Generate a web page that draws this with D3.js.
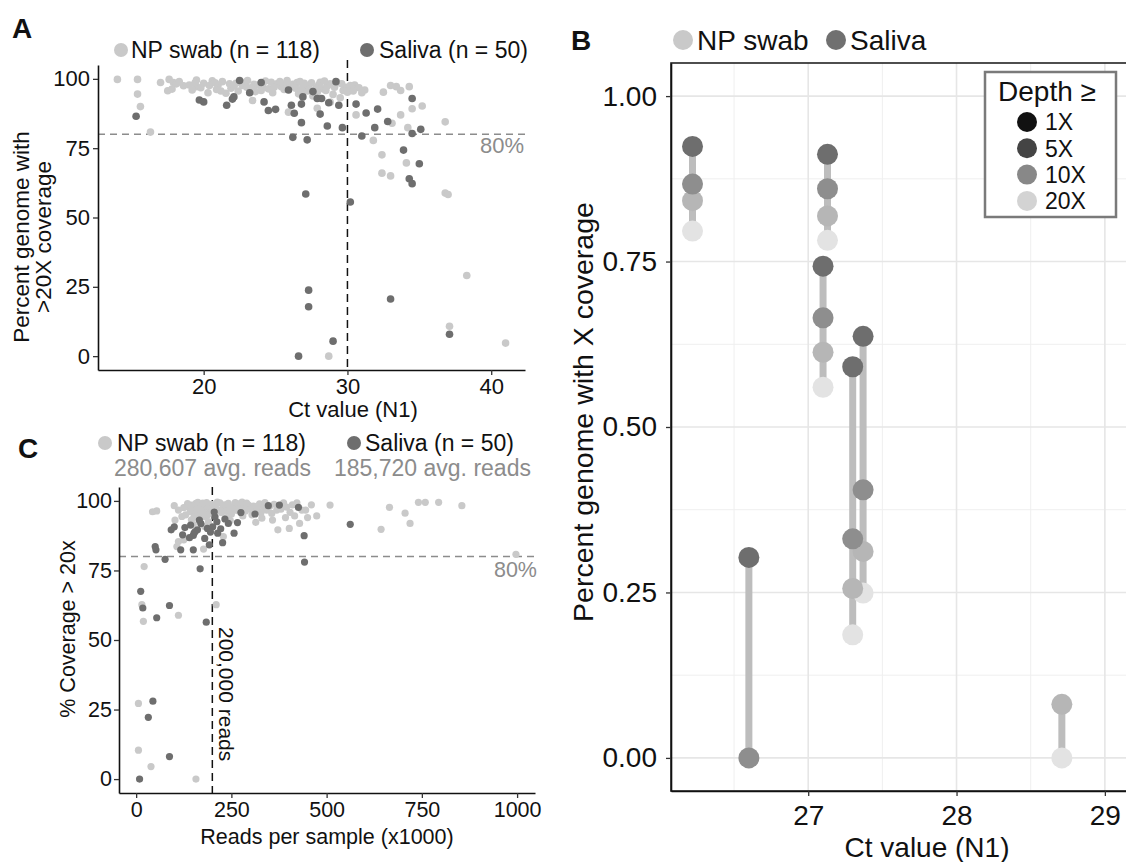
<!DOCTYPE html>
<html>
<head>
<meta charset="utf-8">
<script src="https://cdn.jsdelivr.net/npm/d3@7"></script>
<style>
body { margin: 0; background: #fff; }
svg text { font-family: "Liberation Sans", Arial, sans-serif; }
</style>
</head>
<body>
<div id="chart"></div>
<script>

// ---- panel A : Ct value vs percent genome with >20X coverage  [ct, pct]
var npSwabA = [
	[14.0,99.8],[15.4,99.8],[15.4,94.5],[15.6,90],[16.3,80.8],[17.0,98.7],[17.6,99.8],[17.9,98.7],[18.1,98.2],[17.5,95.7],
	[17.8,96.3],[19.0,97.8],[19.5,99.6],[19.5,97.2],[20.0,98.4],[20.3,95.0],[20.6,99.3],[21.0,97.8],[21.55,94.8],[21.8,98.2],
	[22.25,98.4],[22.7,97.6],[23.05,99.4],[23.4,92.2],[23.5,98.0],[24.1,97.0],[24.7,98.8],[25.1,98.2],[25.4,97.2],[25.7,98.2],
	[26.2,98.0],[26.5,98.7],[26.9,97.2],[27.2,95.6],[27.3,97.0],[28.0,97.8],[28.3,96.4],[28.5,95.8],[28.8,98.2],[29.1,97.0],
	[29.5,93.2],[29.9,97.0],[30.5,97.8],[30.8,96.8],[31.2,96.0],[30.6,87.0],[27.9,89.4],[28.8,91.6],[25.9,88.0],[32.5,95.2],
	[33.0,97.6],[33.4,97.2],[33.7,95.8],[34.3,97.2],[33.7,87.0],[34.5,89.2],[35.2,90.2],[34.2,82.4],[33.1,84.0],[31.8,77.8],
	[32.4,72.6],[34.1,69.7],[32.4,66.0],[33.0,65.0],[36.8,84.5],[36.8,58.8],[37.0,58.3],[37.1,10.8],[28.7,0],[38.3,29.1],
	[41.0,4.7],[18.6,97.5],[19.2,96.0],[19.8,96.8],[20.4,97.6],[20.9,96.2],[21.3,99.0],[21.9,96.6],[22.4,95.6],[22.9,98.8],
	[23.3,96.8],[23.8,97.8],[24.3,99.2],[24.5,96.4],[24.9,97.0],[25.3,99.0],[25.6,96.2],[26.0,97.2],[26.4,96.6],[26.7,99.0],
	[27.0,98.4],[27.5,98.6],[27.8,96.6],[28.1,98.8],[28.6,97.4],[29.3,98.6],[29.7,95.8],[30.2,97.6],[30.0,95.2],[31.0,95.0],
	[22.1,97.4],[23.6,95.4],[24.8,95.0],[26.6,94.6],[27.6,93.8],[29.0,94.4],[28.4,99.2],[21.2,95.6],[19.4,98.6],[20.8,98.6],
	[25.8,99.4],[23.0,97.0],[26.8,96.0],[24.0,95.8],[27.9,95.2],[29.6,98.2],[30.4,95.6],[18.3,99.0]
];
var salivaA = [
	[15.3,86.5],[19.7,92.4],[20.0,91.7],[21.6,90.5],[22.0,92.7],[22.1,93.5],[22.5,99.4],[23.2,95.0],[24.0,98.7],[24.2,91.7],
	[24.5,88.6],[25.0,89.0],[25.9,96.0],[26.1,90.5],[26.8,90.9],[26.3,87.6],[26.2,78.9],[26.8,84.2],[26.9,93.5],[27.2,78.0],
	[27.6,95.4],[27.9,92.9],[28.2,92.9],[28.1,87.3],[28.6,83.0],[28.7,91.4],[29.2,99.0],[29.4,90.5],[29.65,82.4],[30.6,90.9],
	[31.3,87.7],[31.9,82.4],[31.0,79.4],[32.1,89.1],[32.8,84.6],[34.5,92.9],[33.9,74.3],[34.5,80.3],[35.1,81.8],[35.0,69.4],
	[34.3,64.0],[34.5,62.2],[27.1,58.5],[30.2,55.6],[27.3,23.8],[27.3,17.8],[33.0,20.6],[29.0,5.4],[26.6,0],[37.1,7.9]
];

// ---- panel C : reads per sample (x1000) vs % coverage > 20x  [reads, pct]
var npSwabC = [
	[43,96.1],[54,96.4],[100,98.3],[111,96.7],[102,93.1],[111,85.4],[137,97.9],[146,98.5],[157,99.1],[164,97.9],
	[172,98.5],[181,97.7],[190,98.1],[142,96.1],[155,95.5],[168,95.3],[181,94.3],[194,96.7],[220,99.3],[229,97.9],
	[242,99.1],[255,97.9],[269,98.9],[282,97.9],[295,98.5],[308,98.1],[324,98.9],[334,97.9],[343,96.7],[356,95.5],
	[369,96.7],[387,99.3],[404,95.9],[422,99.3],[435,96.7],[445,96.7],[314,92.3],[358,93.1],[372,89.6],[402,90.1],
	[429,91.9],[474,94.6],[509,98.5],[665,97.7],[706,95.6],[719,91.9],[643,89.8],[741,99.5],[759,99.5],[794,99.5],
	[855,98.3],[997,80.8],[21,76.4],[210,62.7],[15,62.7],[19,56.7],[111,58.9],[6,27.2],[6,10.4],[39,4.5],
	[157,0],[107,83.6],[177,82.7],[229,87.2],[130,95.0],[135,99.0],[148,96.8],[152,94.2],[160,97.0],[162,99.5],
	[170,96.6],[175,99.2],[178,95.8],[185,99.4],[188,95.0],[198,98.8],[200,97.4],[203,95.4],[208,98.2],[213,99.6],
	[216,96.8],[224,95.8],[233,98.6],[236,96.4],[246,97.2],[250,95.2],[260,99.4],[263,96.6],[273,97.4],[278,99.6],
	[287,96.4],[290,99.2],[300,97.0],[304,95.0],[318,97.0],[328,95.8],[338,99.4],[350,98.0],[362,98.8],[380,97.0],
	[395,97.8],[410,98.6],[125,97.6],[120,94.4],[145,93.2],[165,92.8],[190,92.6],[238,94.0],[247,93.0],[280,94.6],
	[330,93.8],[392,94.0],[416,94.6],[450,94.0],[460,98.6],[180,90.8],[150,91.5],[125,86.0]
];
var salivaC = [
	[12,67.5],[17.5,61.5],[54,58],[87.5,62.4],[184,56.4],[44,28],[32,22.2],[87.5,8.1],[9,0],[168,75.6],
	[76,79],[50,83.6],[52,82.4],[117,82.4],[150,82.4],[192,84.2],[227,85],[122,87.8],[92,89.6],[100,90.7],
	[143,91.3],[152,88.4],[161,89.6],[166,93.1],[187,90.1],[207,94.3],[212,92.5],[214,88.4],[201,90.7],[242,91.9],
	[257,88.4],[266,92.2],[275,95.8],[312,95.3],[347,98.3],[376,98.5],[426,97.7],[441,87.5],[442,78],[562,91.6],
	[150,87.6],[155,89.0],[140,86.8],[170,91.8],[195,88.8],[205,96.0],[222,90.0],[233,93.5],[180,86.5],[128,90.4]
];

// ---- panel B : coverage at each depth for a few samples (null = not shown)
var ctB     = [26.22, 27.13, 27.10, 27.30, 27.37, 26.60, 28.71];
var depth1X  = [0.924, 0.912, 0.743, 0.591, 0.637, 0.303, null];
var depth5X  = [0.867, 0.860, 0.665, 0.331, 0.405, 0.0,   null];
var depth10X = [0.842, 0.819, 0.613, 0.256, 0.312, null,  0.081];
var depth20X = [0.796, 0.782, 0.560, 0.186, 0.249, null,  0.0];
var depthLabels = ["1X", "5X", "10X", "20X"];

var lightCol = "#c9c9c9",
	 darkCol = "#6e6e6e",
	 noteCol = "#8c8c8c",
	 depthCols = ["#111111", "#444444", "#888888", "#d3d3d3"],
	 depthDotCols = ["#6e6e6e", "#8e8e8e", "#b6b6b6", "#e3e3e3"];

var svg = d3.select("#chart").append("svg")
	 .attr("width", 1126)
	 .attr("height", 862)

svg.append("rect").attr("width", 1126).attr("height", 862).attr("fill", "#fff")

function styleAxis(g, size) {
	g.attr("font-family", null)
	g.select(".domain").attr("stroke", "#111").attr("stroke-width", 1.6)
	g.selectAll(".tick line").attr("stroke", "#333").attr("stroke-width", 1.3)
	g.selectAll(".tick text").attr("font-size", size).attr("fill", "#111")
}

function label(x, y, txt, size, opts) {
	opts = opts || {};
	return svg.append("text")
		 .attr("x", x).attr("y", y)
		 .attr("font-size", size)
		 .attr("font-weight", opts.bold ? "bold" : null)
		 .attr("fill", opts.fill || "#111")
		 .attr("text-anchor", opts.anchor || "start")
		 .text(txt)
}

// ================= panel A =================
var xA = d3.scaleLinear().domain([12.65, 42.35]).range([98, 525]),
	 yA = d3.scaleLinear().domain([-5, 105]).range([370, 65]);

svg.append("line")
	 .attr("x1", xA.range()[0]).attr("x2", xA.range()[1])
	 .attr("y1", yA(80)).attr("y2", yA(80))
	 .attr("stroke", noteCol).attr("stroke-width", 1.4).attr("stroke-dasharray", "7,5")

svg.append("line")
	 .attr("x1", xA(30)).attr("x2", xA(30))
	 .attr("y1", 60).attr("y2", yA.range()[0])
	 .attr("stroke", "#111").attr("stroke-width", 1.5).attr("stroke-dasharray", "8,5")

svg.append("g").selectAll("circle")
	 .data(npSwabA)
	.enter().append("circle")
	 .attr("cx", function(d) {return xA(d[0])})
	 .attr("cy", function(d) {return yA(d[1])})
	 .attr("r", 3.8)
	 .attr("fill", lightCol)

svg.append("g").selectAll("circle")
	 .data(salivaA)
	.enter().append("circle")
	 .attr("cx", function(d) {return xA(d[0])})
	 .attr("cy", function(d) {return yA(d[1])})
	 .attr("r", 3.8)
	 .attr("fill", darkCol)

svg.append("g")
	 .attr("transform", "translate(0," + yA.range()[0] + ")")
	 .call(d3.axisBottom(xA).tickValues([20, 30, 40]).tickSize(5).tickPadding(3).tickSizeOuter(0))
	 .call(styleAxis, 22)

svg.append("g")
	 .attr("transform", "translate(" + xA.range()[0] + ",0)")
	 .call(d3.axisLeft(yA).tickValues([0, 25, 50, 75, 100]).tickSize(5).tickPadding(3).tickSizeOuter(0))
	 .call(styleAxis, 22)

label(524, 153, "80%", 22, {fill: noteCol, anchor: "end"})
label(353, 417, "Ct value (N1)", 22, {anchor: "middle"})

var yTitleA = svg.append("text")
	 .attr("transform", "translate(29,237) rotate(-90)")
	 .attr("font-size", 22.5).attr("fill", "#111").attr("text-anchor", "middle")
yTitleA.append("tspan").attr("x", 0).attr("dy", 0).text("Percent genome with")
yTitleA.append("tspan").attr("x", 0).attr("dy", 22).text(">20X coverage")

label(12, 38, "A", 28, {bold: true})
svg.append("circle").attr("cx", 121).attr("cy", 50).attr("r", 7).attr("fill", lightCol)
label(131, 58, "NP swab (n = 118)", 23)
svg.append("circle").attr("cx", 367).attr("cy", 50).attr("r", 7).attr("fill", darkCol)
label(379, 58, "Saliva (n = 50)", 23)

// ================= panel C =================
var xC = d3.scaleLinear().domain([-45, 1047]).range([119, 535]),
	 yC = d3.scaleLinear().domain([-5, 105]).range([793, 487]);

svg.append("line")
	 .attr("x1", xC.range()[0]).attr("x2", xC.range()[1])
	 .attr("y1", yC(80)).attr("y2", yC(80))
	 .attr("stroke", noteCol).attr("stroke-width", 1.4).attr("stroke-dasharray", "7,5")

svg.append("line")
	 .attr("x1", xC(200)).attr("x2", xC(200))
	 .attr("y1", yC.range()[1]).attr("y2", yC.range()[0])
	 .attr("stroke", "#111").attr("stroke-width", 1.5).attr("stroke-dasharray", "8,5")

svg.append("g").selectAll("circle")
	 .data(npSwabC)
	.enter().append("circle")
	 .attr("cx", function(d) {return xC(d[0])})
	 .attr("cy", function(d) {return yC(d[1])})
	 .attr("r", 3.6)
	 .attr("fill", lightCol)

svg.append("g").selectAll("circle")
	 .data(salivaC)
	.enter().append("circle")
	 .attr("cx", function(d) {return xC(d[0])})
	 .attr("cy", function(d) {return yC(d[1])})
	 .attr("r", 3.6)
	 .attr("fill", darkCol)

svg.append("g")
	 .attr("transform", "translate(0," + yC.range()[0] + ")")
	 .call(d3.axisBottom(xC).tickValues([0, 250, 500, 750, 1000]).tickFormat(d3.format("d"))
		 .tickSize(5).tickPadding(4).tickSizeOuter(0))
	 .call(styleAxis, 21.5)

svg.append("g")
	 .attr("transform", "translate(" + xC.range()[0] + ",0)")
	 .call(d3.axisLeft(yC).tickValues([0, 25, 50, 75, 100]).tickSize(5).tickPadding(2).tickSizeOuter(0))
	 .call(styleAxis, 21.5)

label(537, 577, "80%", 21.5, {fill: noteCol, anchor: "end"})
label(327, 844, "Reads per sample (x1000)", 21.5, {anchor: "middle"})

svg.append("text")
	 .attr("transform", "translate(75,629) rotate(-90)")
	 .attr("font-size", 21.5).attr("fill", "#111").attr("text-anchor", "middle")
	 .text("% Coverage > 20x")

svg.append("text")
	 .attr("transform", "translate(" + (xC(200) + 7) + ",627) rotate(90)")
	 .attr("font-size", 21).attr("fill", "#111")
	 .text("200,000 reads")

label(18, 458, "C", 28, {bold: true})
svg.append("circle").attr("cx", 105).attr("cy", 443).attr("r", 7).attr("fill", lightCol)
label(117, 451, "NP swab (n = 118)", 23)
label(114, 476, "280,607 avg. reads", 23, {fill: noteCol})
svg.append("circle").attr("cx", 354).attr("cy", 443).attr("r", 7).attr("fill", darkCol)
label(365, 451, "Saliva (n = 50)", 23)
label(334, 476, "185,720 avg. reads", 23, {fill: noteCol})

// ================= panel B =================
var xB = d3.scaleLinear().domain([26.075, 29.52]).range([671, 1182]),
	 yB = d3.scaleLinear().domain([-0.05, 1.05]).range([791, 63]);

var gridB = svg.append("g")
gridB.selectAll(".vminor")
	 .data([26.5, 27.5, 28.5, 29.5])
	.enter().append("line")
	 .attr("x1", function(d) {return xB(d)}).attr("x2", function(d) {return xB(d)})
	 .attr("y1", yB.range()[1]).attr("y2", yB.range()[0])
	 .attr("stroke", "#efefef").attr("stroke-width", 1)
gridB.selectAll(".hminor")
	 .data([0.125, 0.375, 0.625, 0.875])
	.enter().append("line")
	 .attr("x1", xB.range()[0]).attr("x2", xB.range()[1])
	 .attr("y1", function(d) {return yB(d)}).attr("y2", function(d) {return yB(d)})
	 .attr("stroke", "#efefef").attr("stroke-width", 1)
gridB.selectAll(".vmajor")
	 .data([27, 28, 29])
	.enter().append("line")
	 .attr("x1", function(d) {return xB(d)}).attr("x2", function(d) {return xB(d)})
	 .attr("y1", yB.range()[1]).attr("y2", yB.range()[0])
	 .attr("stroke", "#e6e6e6").attr("stroke-width", 1.6)
gridB.selectAll(".hmajor")
	 .data([0, 0.25, 0.5, 0.75, 1])
	.enter().append("line")
	 .attr("x1", xB.range()[0]).attr("x2", xB.range()[1])
	 .attr("y1", function(d) {return yB(d)}).attr("y2", function(d) {return yB(d)})
	 .attr("stroke", "#e6e6e6").attr("stroke-width", 1.6)

var depthRows = [depth1X, depth5X, depth10X, depth20X];
var samplesB = ctB.map(function(ct, i) {
	var vals = depthRows.map(function(row, k) {return {depth: k, v: row[i]}})
		 .filter(function(p) {return p.v !== null});
	return {ct: ct, vals: vals};
});

svg.append("g").selectAll("line")
	 .data(samplesB)
	.enter().append("line")
	 .attr("x1", function(d) {return xB(d.ct)}).attr("x2", function(d) {return xB(d.ct)})
	 .attr("y1", function(d) {return yB(d3.max(d.vals, function(p) {return p.v}))})
	 .attr("y2", function(d) {return yB(d3.min(d.vals, function(p) {return p.v}))})
	 .attr("stroke", "#bdbdbd").attr("stroke-width", 7)

var dotsB = [];
samplesB.forEach(function(s) {
	s.vals.forEach(function(p) {dotsB.push({ct: s.ct, v: p.v, depth: p.depth})})
});
dotsB.sort(function(a, b) {return b.depth - a.depth});

svg.append("g").selectAll("circle")
	 .data(dotsB)
	.enter().append("circle")
	 .attr("cx", function(d) {return xB(d.ct)})
	 .attr("cy", function(d) {return yB(d.v)})
	 .attr("r", 10.5)
	 .attr("fill", function(d) {return depthDotCols[d.depth]})

svg.append("rect")
	 .attr("x", xB.range()[0]).attr("y", yB.range()[1])
	 .attr("width", xB.range()[1] - xB.range()[0])
	 .attr("height", yB.range()[0] - yB.range()[1])
	 .attr("fill", "none").attr("stroke", "#222").attr("stroke-width", 1.6)

svg.append("g")
	 .attr("transform", "translate(0," + yB.range()[0] + ")")
	 .call(d3.axisBottom(xB).tickValues([27, 28, 29]).tickFormat(d3.format("d"))
		 .tickSize(5).tickPadding(9).tickSizeOuter(0))
	 .call(styleAxis, 28)

svg.append("g")
	 .attr("transform", "translate(" + xB.range()[0] + ",0)")
	 .call(d3.axisLeft(yB).tickValues([0, 0.25, 0.5, 0.75, 1]).tickFormat(d3.format(".2f"))
		 .tickSize(5).tickPadding(9).tickSizeOuter(0))
	 .call(styleAxis, 28)

label(927, 857, "Ct value (N1)", 28, {anchor: "middle"})
svg.append("text")
	 .attr("transform", "translate(593,412) rotate(-90)")
	 .attr("font-size", 28.5).attr("fill", "#111").attr("text-anchor", "middle")
	 .text("Percent genome with X coverage")

label(571, 50, "B", 28, {bold: true})
svg.append("circle").attr("cx", 683).attr("cy", 40).attr("r", 10).attr("fill", lightCol)
label(697, 50, "NP swab", 28)
svg.append("circle").attr("cx", 836).attr("cy", 40).attr("r", 10).attr("fill", "#707070")
label(850, 50, "Saliva", 28)

// legend box for depth
var legB = svg.append("g")
legB.append("rect")
	 .attr("x", 985).attr("y", 72).attr("width", 131).attr("height", 145)
	 .attr("fill", "#fff").attr("stroke", "#7a7a7a").attr("stroke-width", 2.5)
legB.append("text")
	 .attr("x", 1047).attr("y", 101).attr("font-size", 28).attr("fill", "#111")
	 .attr("text-anchor", "middle").text("Depth \u2265")
var legItems = legB.selectAll(".item")
	 .data(depthLabels)
	.enter().append("g")
	 .attr("transform", function(d, i) {return "translate(1027," + (122 + i * 26.3) + ")"})
legItems.append("circle").attr("r", 10).attr("fill", function(d, i) {return depthCols[i]})
legItems.append("text")
	 .attr("x", 18).attr("dy", "0.36em").attr("font-size", 23).attr("fill", "#111")
	 .text(function(d) {return d})

</script>
</body>
</html>
